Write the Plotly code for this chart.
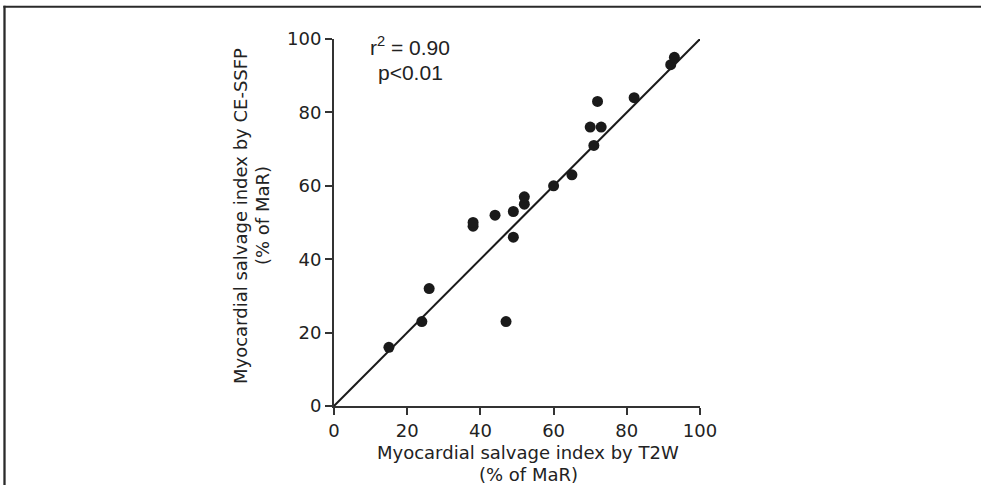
import plotly.graph_objects as go

# Data
t2w = [15, 24, 26, 47, 38, 38, 44, 49, 49, 52, 52, 60, 65, 70, 71, 72, 73, 82, 92, 93]
ce_ssfp = [16, 23, 32, 23, 49, 50, 52, 53, 46, 55, 57, 60, 63, 76, 71, 83, 76, 84, 93, 95]
fit_x = [0, 100]
fit_y = [0, 100]
x_ticks = [0, 20, 40, 60, 80, 100]
y_ticks = [0, 20, 40, 60, 80, 100]

W, H = 981, 485
L, R, T, B = 334, 700, 39, 406  # plot area pixel box


def px(xp):
    return (xp - L) / (R - L)


def py(yp):
    return (B - yp) / (B - T)


ink = "#1a1a1a"
tickfont = dict(family="DejaVu Sans", size=18, color="#222")

fig = go.Figure()
fig.add_trace(go.Scatter(x=fit_x, y=fit_y, mode="lines",
                         line=dict(color=ink, width=2), cliponaxis=False,
                         showlegend=False, hoverinfo="skip"))
fig.add_trace(go.Scatter(x=t2w, y=ce_ssfp, mode="markers",
                         marker=dict(color=ink, size=11), cliponaxis=False,
                         showlegend=False))

axis_common = dict(range=[0, 100], showgrid=False, zeroline=False,
                   showline=True, linecolor="#333", linewidth=2,
                   ticks="outside", ticklen=7, tickwidth=2, tickcolor="#333",
                   tickfont=tickfont, fixedrange=True)
fig.update_xaxes(tickvals=x_ticks, **axis_common)
fig.update_yaxes(tickvals=y_ticks, **axis_common)

title_font = dict(family="DejaVu Sans", size=18, color="#222")
ann = [
    dict(text="Myocardial salvage index by T2W", x=px(528), y=py(452)),
    dict(text="(% of MaR)", x=px(528), y=py(474)),
    dict(text="Myocardial salvage index by CE-SSFP", x=px(240), y=py(216), textangle=-90),
    dict(text="(% of MaR)", x=px(262), y=py(216), textangle=-90),
]
annotations = []
for a in ann:
    d = dict(xref="paper", yref="paper", showarrow=False, font=title_font,
             xanchor="center", yanchor="middle")
    d.update(a)
    annotations.append(d)

stat_font = dict(family="Liberation Sans", size=21, color="#222")
annotations.append(dict(text="r<sup>2</sup> = 0.90", x=px(410), y=py(46), xref="paper", yref="paper",
                        showarrow=False, font=stat_font, xanchor="center", yanchor="middle"))
annotations.append(dict(text="p<0.01", x=px(410), y=py(72), xref="paper", yref="paper",
                        showarrow=False, font=stat_font, xanchor="center", yanchor="middle"))

frame = "#2a2a2a"
shapes = [
    dict(type="line", xref="paper", yref="paper", x0=px(4.5), x1=px(4.5), y0=py(5.7), y1=py(486),
         line=dict(color=frame, width=2.3)),
    dict(type="line", xref="paper", yref="paper", x0=px(3.4), x1=px(982), y0=py(6.7), y1=py(6.7),
         line=dict(color=frame, width=2)),
]

fig.update_layout(
    width=W, height=H,
    margin=dict(l=L, r=W - R, t=T, b=H - B, pad=0),
    paper_bgcolor="white", plot_bgcolor="white",
    annotations=annotations, shapes=shapes,
    showlegend=False,
)

fig.write_html(
    "out.html",
    config={"displayModeBar": False, "staticPlot": True},
    post_script="document.body.style.margin='0';document.body.style.overflow='hidden';",
)
